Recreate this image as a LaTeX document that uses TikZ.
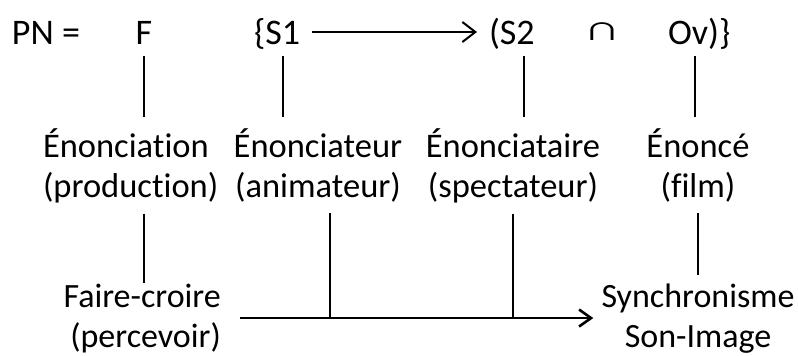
\documentclass[tikz,border=0pt]{standalone}
\usepackage{fontspec}
\setmainfont{Carlito}[Ligatures=CommonOff]
\usetikzlibrary{arrows.meta}
\tikzstyle{link} = [draw,line width=2.6pt]
\tikzstyle{flow} = [draw,line width=2.6pt,-{Straight Barb[length=12pt,width=17pt]}]

\begin{document}
\begin{tikzpicture}
[x=1pt,y=-1pt,
term/.style={font=\fontsize{36}{40}\selectfont,inner sep=0pt,outer sep=12pt,text height=24pt,text depth=0pt},
role/.style={font=\fontsize{34.5}{40}\selectfont,inner sep=0pt,outer sep=11pt,align=center},
effect/.style={font=\fontsize{34}{40}\selectfont,inner sep=0pt}]

\useasboundingbox (0,0) rectangle (798,356);

%% formula
\node[term,anchor=base west] (pn) at (0,44) {PN =};
\node[term,anchor=base] (f) at (144,44) {F};
\node[term,anchor=base west] (sone) at (242,44) {\{S1};
\node[term,anchor=base west] (stwo) at (477,44) {(S2};
\node[term,anchor=base west] (ov) at (656,44) {Ov)\}};
\node[inner sep=0pt,font=\fontsize{36}{40}\selectfont] (cap) at (602,31.5) {\scalebox{1.4}[0.95]{∩}};

%% roles
\node[role,anchor=base west,align=left] (enonciation) at (32,197) {Énonciation\\(production)};
\node[role,anchor=base] (enonciateur) at (318,197) {Énonciateur\\(animateur)};
\node[role,anchor=base] (enonciataire) at (513,197) {Énonciataire\\(spectateur)};
\node[role,anchor=base] (enonce) at (698,197) {Énoncé\\(film)};

%% effects
\node[effect,anchor=base east,align=right] (fairecroire) at (221,347) {Faire-croire\\(percevoir)};
\node[effect,anchor=base,align=center] (synchro) at (698,347) {Synchronisme\\Son-Image};

%% lines
\draw[flow,line width=2pt,-{Straight Barb[length=13pt,width=20pt]}] (sone.east) -- (stwo.west);

\foreach \upper/\lower/\dx in {f/enonciation/0, sone/enonciateur/6, stwo/enonciataire/12, ov/enonce/-4}
{
\draw[link] ([xshift=\dx pt]\upper.south) -- ([xshift=\dx pt]\upper.south |- \lower.north);
}

\foreach \upper/\dx in {enonciateur/12, enonciataire/0}
{
\draw[link] ([xshift=\dx pt]\upper.south) -- ([xshift=\dx pt]\upper.south |- fairecroire.east);
}

\draw[link] (f |- enonciation.south) -- (f |- fairecroire.north);
\draw[link,shorten >=8pt] (enonce.south) -- (enonce.south |- synchro.north);
\draw[flow,shorten <=19pt,shorten >=8pt] (fairecroire.east) -- (fairecroire.east -| synchro.west);

\end{tikzpicture}
\end{document}
